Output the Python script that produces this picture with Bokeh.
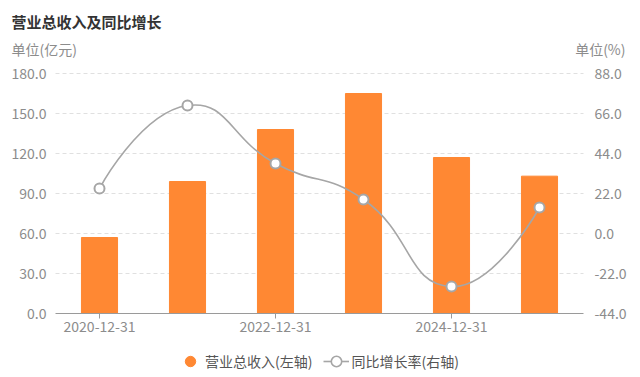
from bokeh.plotting import figure
from bokeh.models import (LinearAxis, Range1d, FixedTicker, Label, Legend, LegendItem,
                          NumeralTickFormatter, ColumnDataSource)
from bokeh.embed import file_html
from bokeh.resources import INLINE

dates = ["2020-12-31", "2021-12-31", "2022-12-31", "2023-12-31", "2024-12-31", "2025-12-31"]
revenue = [57.0, 99.0, 138.0, 165.0, 117.0, 103.0]
growth = [24.7, 70.4, 38.5, 18.7, -29.2, 14.3]
left_ticks = [0, 30, 60, 90, 120, 150, 180]
right_ticks = [-44, -22, 0, 22, 44, 66, 88]
shown_dates = [0, 2, 4]
title_text = "营业总收入及同比增长"
unit_left = "单位(亿元)"
unit_right = "单位(%)"
series_names = ["营业总收入(左轴)", "同比增长率(右轴)"]

FONT = "Noto Sans CJK SC"
ORANGE = "#ff8833"
GRAY_LINE = "#a6a6a6"
TICK_COLOR = "#8c8c8c"

# canvas and plot-area geometry (pixels)
W, H = 640, 377
AREA_L, AREA_R, AREA_T, AREA_B = 55, 583, 73, 313
ncat = len(dates)
step = (AREA_R - AREA_L) / ncat
x0px = AREA_L + step / 2
lmin, lmax = left_ticks[0], left_ticks[-1]
rmin, rmax = right_ticks[0], right_ticks[-1]
lpp = (lmax - lmin) / (AREA_B - AREA_T)   # left units per pixel
rpp = (rmax - rmin) / (AREA_B - AREA_T)   # right units per pixel

x_range = Range1d(-x0px / step, (W - x0px) / step)
y_range = Range1d(lmin - (H - AREA_B) * lpp, lmax + AREA_T * lpp)
r_range = Range1d(rmin - (H - AREA_B) * rpp, rmax + AREA_T * rpp)
x_left = (AREA_L - x0px) / step
x_right = (AREA_R - x0px) / step

p = figure(width=W, height=H, output_backend="svg", toolbar_location=None,
           x_range=x_range, y_range=y_range, min_border=0, title_location=None)
p.outline_line_color = None
p.background_fill_color = "white"
p.border_fill_color = "white"
p.extra_y_ranges = {"right": r_range}
p.xgrid.grid_line_color = None
p.ygrid.grid_line_color = None

x = list(range(ncat))
src = ColumnDataSource(dict(x=x, rev=revenue, gr=growth))

# dashed horizontal grid lines at the left-axis ticks, limited to the plot area
p.segment(x0=[x_left] * (len(left_ticks) - 1), x1=[x_right] * (len(left_ticks) - 1),
          y0=left_ticks[1:], y1=left_ticks[1:], line_color="#e0e0e0", line_width=1,
          line_dash="4 3")

bars = p.vbar(x="x", top="rev", width=0.41, source=src, color=ORANGE)

# smooth line via bezier segments (control points derived from the data)
sx, sy = step, 1.0 / rpp
px = [v * sx for v in x]
py = [v * sy for v in growth]
n = len(px)
smooth = 0.5
cps = []
for i in range(n):
    if i == 0 or i == n - 1:
        cps.append(((px[i], py[i]), (px[i], py[i])))
        continue
    vx = px[i + 1] - px[i - 1]
    vy = py[i + 1] - py[i - 1]
    d0 = ((px[i] - px[i - 1]) ** 2 + (py[i] - py[i - 1]) ** 2) ** 0.5
    d1 = ((px[i + 1] - px[i]) ** 2 + (py[i + 1] - py[i]) ** 2) ** 0.5
    r0 = d0 / (d0 + d1)
    r1 = d1 / (d0 + d1)
    cps.append(((px[i] - vx * smooth * r0, py[i] - vy * smooth * r0),
                (px[i] + vx * smooth * r1, py[i] + vy * smooth * r1)))
bz = dict(x0=[], y0=[], x1=[], y1=[], cx0=[], cy0=[], cx1=[], cy1=[])
for i in range(n - 1):
    bz["x0"].append(x[i]); bz["y0"].append(growth[i])
    bz["x1"].append(x[i + 1]); bz["y1"].append(growth[i + 1])
    bz["cx0"].append(cps[i][1][0] / sx); bz["cy0"].append(cps[i][1][1] / sy)
    bz["cx1"].append(cps[i + 1][0][0] / sx); bz["cy1"].append(cps[i + 1][0][1] / sy)
curve = p.bezier(source=ColumnDataSource(bz), x0="x0", y0="y0", x1="x1", y1="y1",
                 cx0="cx0", cy0="cy0", cx1="cx1", cy1="cy1",
                 line_color=GRAY_LINE, line_width=1.6, y_range_name="right")
pts = p.scatter(x="x", y="gr", source=src, marker="circle", size=10, fill_color="white",
                line_color=GRAY_LINE, line_width=2, y_range_name="right")

# hidden renderers used only for legend glyphs
leg_dot = p.scatter(x="x", y="rev", source=src, marker="circle", size=12, color=ORANGE,
                    visible=False)
leg_line = p.line(x="x", y="gr", source=src, line_color=GRAY_LINE, line_width=1.6,
                  y_range_name="right", visible=False)
leg_pt = p.scatter(x="x", y="gr", source=src, marker="circle", size=9, fill_color="white",
                   line_color=GRAY_LINE, line_width=1.6, y_range_name="right", visible=False)

# axes drawn at fixed locations around the plot area
p.yaxis.ticker = FixedTicker(ticks=left_ticks)
p.yaxis.formatter = NumeralTickFormatter(format="0.0")
p.yaxis.fixed_location = x_left
ra = LinearAxis(y_range_name="right", ticker=FixedTicker(ticks=right_ticks),
                formatter=NumeralTickFormatter(format="0.0"), fixed_location=x_right)
p.add_layout(ra, "right")
for ax in (p.yaxis[0], ra):
    ax.axis_line_color = None
    ax.major_tick_line_color = None
    ax.minor_tick_line_color = None
    ax.major_label_text_color = TICK_COLOR
    ax.major_label_text_font = FONT
    ax.major_label_text_font_size = "14px"
p.yaxis[0].major_label_standoff = 3
ra.major_label_standoff = 5

p.xaxis.ticker = FixedTicker(ticks=shown_dates)
p.xaxis.major_label_overrides = {i: dates[i] for i in shown_dates}
p.xaxis.fixed_location = lmin
p.xaxis.bounds = (x_left, x_right)
p.xaxis.axis_line_color = "#9a9a9a"
p.xaxis.major_tick_line_color = "#9a9a9a"
p.xaxis.major_tick_in = 0
p.xaxis.major_tick_out = 5
p.xaxis.minor_tick_line_color = None
p.xaxis.major_label_text_color = TICK_COLOR
p.xaxis.major_label_text_font = FONT
p.xaxis.major_label_text_font_size = "14px"
p.xaxis.major_label_standoff = 2

# title and unit labels (screen units from the bottom-left corner)
p.add_layout(Label(x=11, y=H - 21, x_units="screen", y_units="screen", text=title_text,
                   text_font=FONT, text_font_size="15px", text_font_style="bold",
                   text_color="#333333", text_baseline="middle"))
p.add_layout(Label(x=11, y=H - 48, x_units="screen", y_units="screen", text=unit_left,
                   text_font=FONT, text_font_size="14px", text_color=TICK_COLOR,
                   text_baseline="middle"))
p.add_layout(Label(x=625, y=H - 48, x_units="screen", y_units="screen", text=unit_right,
                   text_font=FONT, text_font_size="14px", text_color=TICK_COLOR,
                   text_baseline="middle", text_align="right"))

# series legend under the x axis
legend = Legend(items=[LegendItem(label=series_names[0], renderers=[leg_dot]),
                       LegendItem(label=series_names[1], renderers=[leg_line, leg_pt])],
                orientation="horizontal", location=(177, 3),
                label_text_font=FONT, label_text_font_size="14px", label_text_color="#555555",
                border_line_color=None, background_fill_alpha=0, inactive_fill_alpha=0,
                glyph_width=26, glyph_height=26, label_height=16, spacing=11, padding=0,
                margin=0, label_standoff=2)
p.add_layout(legend)

open("out.html", "w").write(file_html(p, INLINE))
